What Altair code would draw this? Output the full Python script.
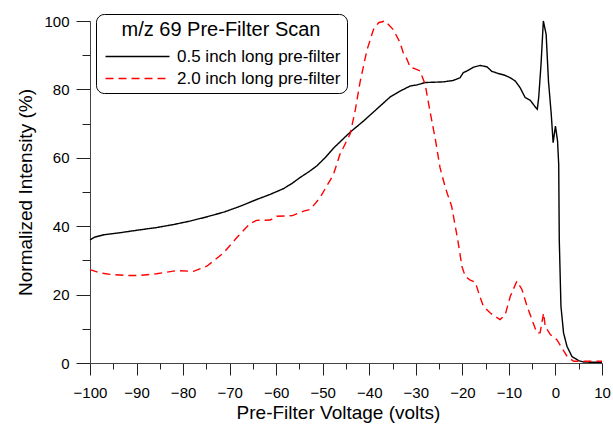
import altair as alt
import pandas as pd

# Series 1: 0.5 inch long pre-filter (black solid)
v_short = [-100, -99, -97, -93, -89.5, -85.7, -82, -78.5, -75, -71.3, -68, -64.2, -61.3,
           -58.4, -56.5, -54.9, -53, -51.3, -49.5, -47.7, -44.1, -41.2, -37.7, -35.5, -33.4,
           -31.2, -29.8, -28, -26.2, -24.1, -22, -20.5, -19.8, -19, -17.6, -16.2, -14.7,
           -13.7, -12.2, -11, -9.7, -8.6, -7.6, -6.5, -5.4, -4.3, -3.9, -3.6, -3.1, -2.6,
           -2.0, -1.5, -0.9, -0.5, 0, 0.45, 0.7, 0.82, 1.18, 1.74, 2.47, 3.54, 4.97, 6, 8, 10]
i_short = [36.0, 36.8, 37.5, 38.2, 38.9, 39.6, 40.5, 41.5, 42.7, 44.1, 45.7, 47.8, 49.3,
           51.0, 52.6, 54.2, 55.9, 57.6, 60.0, 62.8, 67.5, 70.8, 75.1, 77.8, 79.5,
           81.0, 81.3, 82.0, 82.1, 82.2, 82.6, 83.4, 84.9, 85.4, 86.5, 87.0, 86.6,
           85.3, 84.6, 84.2, 83.4, 82.4, 80.5, 77.6, 76.8, 74.8, 74.2, 77.6, 87.3, 100,
           96.1, 82.4, 72.7, 64.4, 69.3, 64.9, 58, 36.1, 16.6, 8.8, 4.9, 1.9, 0.7, 0.3, 0.2, 0.2]

# Series 2: 2.0 inch long pre-filter (red dashed)
v_long = [-100, -98, -95.7, -92, -89.3, -85.7, -81.4, -77.8, -74.9, -71.3, -68.5, -65.6,
          -64.2, -61.3, -59.9, -56.5, -54.1, -52.7, -50.6, -47.7, -46.3, -44.1, -43, -42,
          -40.5, -39.1, -38, -36.6, -34.8, -33.4, -32.7, -31.9, -31.2, -30.5, -29.1, -28,
          -26.9, -25.8, -24.8, -23.6, -22.3, -21, -20.1, -19.4, -18.3, -17.2, -16.5, -15.5,
          -14, -11.9, -10.8, -9.7, -8.3, -7.2, -6.1, -5.05, -4.0, -3.3, -2.55, -2.2, -1.1,
          0.3, 1.4, 2.5, 3.9, 5, 7, 10]
i_long = [27.3, 26.4, 25.9, 25.6, 25.6, 26.1, 27.0, 26.8, 28.3, 32.2, 36.6, 40.8,
          41.7, 41.8, 42.9, 43.1, 44.4, 44.9, 48.3, 55.1, 61.0, 67.0, 74.0, 82.0,
          91.5, 97.5, 99.5, 100, 97.4, 93.7, 90.7, 88.8, 86.4, 86.2, 85.4, 81.5,
          73.2, 65.4, 57.1, 51.0, 45.8, 36.1, 28.3, 25.4, 24.2, 23.6, 20.5, 16.6,
          14.6, 12.7, 14.1, 19.5, 23.9, 21.5, 16.6, 12.7, 8.8, 8.8, 14.6, 10.7, 8.3,
          6.8, 4.4, 1.9, 0.5, 0.5, 0.5, 0.5]

series_names = ["0.5 inch long pre-filter", "2.0 inch long pre-filter"]
x_major = list(range(-100, 11, 10))
x_minor = list(range(-95, 10, 10))
y_major = list(range(0, 101, 20))
y_minor = list(range(10, 100, 20))

rows = []
for k, (v, i) in enumerate(zip(v_short, i_short)):
    rows.append({"v": v, "i": i, "s": series_names[0], "o": k})
for k, (v, i) in enumerate(zip(v_long, i_long)):
    rows.append({"v": v, "i": i, "s": series_names[1], "o": k})
df = pd.DataFrame(rows)

FONT = "Liberation Sans"
xs = alt.Scale(domain=[-100, 10], nice=False, zero=False)
ys = alt.Scale(domain=[0, 100], nice=False)

lines = alt.Chart(df).mark_line(strokeWidth=1.4).encode(
    x=alt.X("v:Q", scale=xs, axis=alt.Axis(
        orient="bottom", values=x_major, tickSize=12, labelFontSize=15, labelPadding=10,
        title="Pre-Filter Voltage (volts)", titleFontSize=19, titleX=248, titleY=55,
        titleBaseline="alphabetic", titleAlign="center",
        titleFontWeight="normal", grid=False, labelFlush=False)),
    y=alt.Y("i:Q", scale=ys, axis=alt.Axis(
        orient="left", values=y_major, tickSize=14, labelFontSize=15, labelPadding=7,
        title="Normalized Intensity (%)", titleFontSize=19, titleX=-59, titleY=171,
        titleAngle=270, titleBaseline="alphabetic", titleAlign="center",
        titleFontWeight="normal", grid=False)),
    color=alt.Color("s:N", scale=alt.Scale(domain=series_names, range=["#000000", "#ff0000"]),
                    legend=alt.Legend(title="m/z 69 Pre-Filter Scan")),
    strokeDash=alt.StrokeDash("s:N", scale=alt.Scale(domain=series_names, range=[[1, 0], [8, 5]]),
                              legend=alt.Legend(title="m/z 69 Pre-Filter Scan")),
    order="o:Q",
)

minor = alt.Chart(df).mark_point(opacity=0).encode(
    x=alt.X("v:Q", scale=xs, axis=alt.Axis(
        orient="bottom", values=x_minor, tickSize=6, labels=False, domain=False,
        title=None, grid=False)),
    y=alt.Y("i:Q", scale=ys, axis=alt.Axis(
        orient="left", values=y_minor, tickSize=8, labels=False, domain=False,
        title=None, grid=False)),
)

chart = alt.layer(lines, minor).resolve_axis(x="independent", y="independent").properties(
    width=512, height=342,
    autosize=alt.AutoSizeParams(type="none"),
    padding={"left": 90, "top": 21, "right": 11, "bottom": 61},
).configure(font=FONT).configure_view(stroke=None).configure_axis(
    domainColor="#444444", tickColor="#222222", labelColor="#000000", titleColor="#000000",
    labelFont=FONT, titleFont=FONT,
).configure_legend(
    orient="none", legendX=6, legendY=-7, padding=6, strokeColor="#000000",
    fillColor="#ffffff", cornerRadius=8, titleFontSize=20, titleFontWeight="normal",
    titleAnchor="middle", titleColor="#000000", labelColor="#000000", labelFontSize=17,
    symbolType="M-1,0H11.8", symbolSize=100, symbolStrokeWidth=1.4, labelOffset=58,
    titleFont=FONT, labelFont=FONT, rowPadding=4, titlePadding=8,
    labelLimit=400, titleLimit=400,
)

chart.save("out.html", embed_options={"renderer": "svg", "actions": False})
